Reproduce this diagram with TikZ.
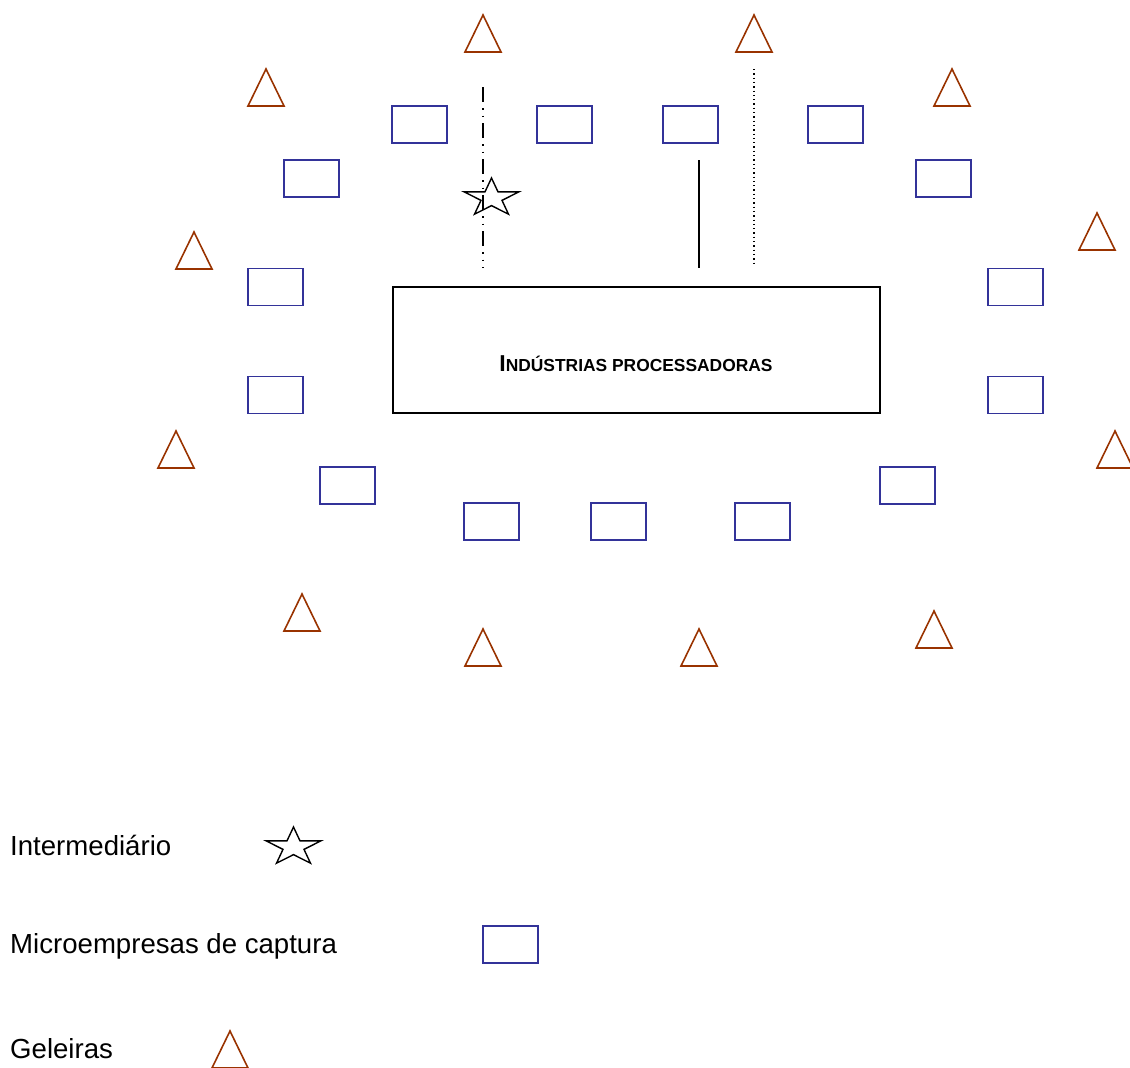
\documentclass[tikz,border=0pt]{standalone}
\usepackage{fontspec}
\setmainfont{Liberation Sans}
\usetikzlibrary{calc}
\definecolor{geleiracol}{RGB}{153,51,0}
\definecolor{microcol}{RGB}{51,51,153}
\tikzset{
  micro/.style={draw=microcol, line width=1.6pt, minimum width=55pt, minimum height=37pt, inner sep=0pt, outer sep=0pt},
  geleira/.style={draw=geleiracol, line width=1.6pt, line join=miter},
  interm/.style={draw=black, line width=1.4pt, line join=miter},
  industria/.style={draw=black, line width=1.4pt, minimum width=487pt, minimum height=126pt, inner sep=0pt, outer sep=0pt},
  legendtext/.style={anchor=base west, inner sep=0pt, font=\fontsize{27.6}{27.6}\selectfont},
  dashdotdot/.style={line width=1.6pt, dash pattern=on 15pt off 6pt on 1.5pt off 6pt on 1.5pt off 6pt},
  finedots/.style={line width=1.1pt, dash pattern=on 1.3pt off 3pt},
}
% Triangle (geleira) with apex at (#1,#2)
\newcommand{\geleiramark}[3]{%
  \coordinate (#3) at (#1,#2);
  \draw[geleira] ($(#3)+(-18,37)$) -- (#3) -- ($(#3)+(18,37)$) -- cycle;
}
% Five-pointed star (intermediario) centred at (#1,#2)
\newcommand{\starmark}[3]{%
  \coordinate (#3) at (#1,#2);
  \draw[interm, shift={(#3)}, xscale=1.445]
    (-90:20) -- (-54:7.64) -- (-18:20) -- (18:7.64) -- (54:20) -- (90:7.64)
    -- (126:20) -- (162:7.64) -- (198:20) -- (234:7.64) -- cycle;
}
\begin{document}
\begin{tikzpicture}[x=1pt, y=-1pt]
\useasboundingbox (0,0) rectangle (1130,1068);

% processing industries
\node[industria] (ind) at (636.5,350) {};
\node at (636,364) {\bfseries{\fontsize{23}{23}\selectfont I}{\fontsize{17.4}{17.4}\selectfont NDÚSTRIAS PROCESSADORAS}};

% capture micro-enterprises
\foreach \cx/\cy [count=\i] in {419.5/124.5, 564.5/124.5, 690.5/124.5, 835.5/124.5,
    311.5/178.5, 943.5/178.5, 275.5/287, 1015.5/287, 275.5/395, 1015.5/395,
    347.5/485.5, 907.5/485.5, 491.5/521.5, 618.5/521.5, 762.5/521.5}
  \node[micro] (m\i) at (\cx,\cy) {};

% ice suppliers (geleiras)
\geleiramark{483}{15}{g1}
\geleiramark{754}{15}{g2}
\geleiramark{266}{69}{g3}
\geleiramark{952}{69}{g4}
\geleiramark{194}{232}{g5}
\geleiramark{1097}{213}{g6}
\geleiramark{176}{431}{g7}
\geleiramark{1115}{431}{g8}
\geleiramark{302}{594}{g9}
\geleiramark{483}{629}{g10}
\geleiramark{699}{629}{g11}
\geleiramark{934}{611}{g12}

% intermediary
\starmark{491.5}{198}{s1}

% supply links to the industries
\coordinate (a1) at (483,87);
\coordinate (a2) at (483,268);
\coordinate (b1) at (699,160);
\coordinate (b2) at (699,268);
\coordinate (c1) at (754,69);
\coordinate (c2) at (754,266);
\draw[dashdotdot] (a1) -- (a2);
\draw[line width=1.8pt] (b1) -- (b2);
\draw[finedots] (c1) -- (c2);

% legend
\node[legendtext] (l1) at (10,855) {Intermediário};
\starmark{293.5}{847}{ls}
\node[legendtext] (l2) at (10,953) {Microempresas de captura};
\node[micro] (lm) at (510.5,944.5) {};
\node[legendtext] (l3) at (10,1058) {Geleiras};
\geleiramark{230}{1031}{lg}
\end{tikzpicture}
\end{document}
